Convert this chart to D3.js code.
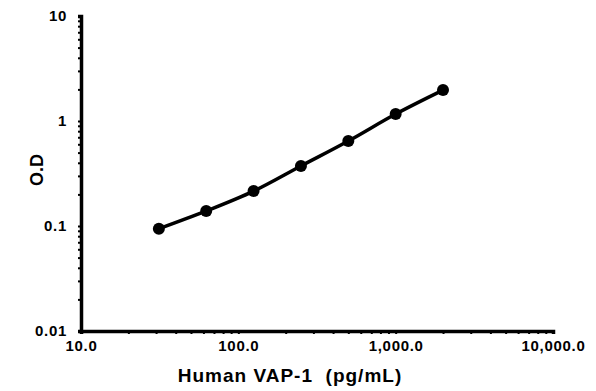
<!DOCTYPE html>
<html>
<head>
<meta charset="utf-8">
<script src="https://cdn.jsdelivr.net/npm/d3@7"></script>
<style>
body { margin: 0; background: #fff; }
text { font-family: "Liberation Sans", Arial, sans-serif; font-weight: bold; fill: #000; }
.axis path, .axis line { stroke: #000; }
</style>
</head>
<body>
<div id="chart"></div>
<script>
var WIDTH = 596;
var HEIGHT = 391;

// standard concentrations (pg/mL) and measured O.D
var conc = [31.25, 62.5, 125, 250, 500, 1000, 2000];
var od = [0.094, 0.139, 0.215, 0.373, 0.645, 1.166, 1.97];

var xTicks = [10, 100, 1000, 10000];
var xTickLabels = ['10.0', '100.0', '1,000.0', '10,000.0'];
var yTicks = [0.01, 0.1, 1, 10];
var yTickLabels = ['0.01', '0.1', '1', '10'];

var svg = d3.select('#chart').append('svg')
	.attr('width', WIDTH)
	.attr('height', HEIGHT);

var x = d3.scaleLog().domain([10, 10000]).range([81, 553]);
var y = d3.scaleLog().domain([0.01, 10]).range([331, 16]);

// all minor ticks per decade
function minorTicks(lo, hi) {
	var out = [];
	for (var d = lo; d < hi; d *= 10) {
		for (var k = 1; k < 10; k++) out.push(d * k);
	}
	out.push(hi);
	return out;
}

var xAxis = d3.axisBottom(x)
	.tickValues(minorTicks(10, 10000))
	.tickSize(3)
	.tickPadding(6)
	.tickFormat(function(d) {
		var i = xTicks.indexOf(d);
		return i >= 0 ? xTickLabels[i] : '';
	});

var yAxis = d3.axisLeft(y)
	.tickValues(minorTicks(0.01, 10))
	.tickSize(3)
	.tickPadding(11)
	.tickFormat(function(d) {
		for (var i = 0; i < yTicks.length; i++) {
			if (Math.abs(d - yTicks[i]) < 1e-9) return yTickLabels[i];
		}
		return '';
	});

var gx = svg.append('g')
	.attr('class', 'axis')
	.attr('transform', 'translate(0,331)')
	.call(xAxis);
gx.select('.domain').attr('stroke-width', 3.5);
gx.selectAll('line').attr('stroke-width', 2);
gx.selectAll('text').style('font-size', '15px').style('letter-spacing', '0.7px');

var gy = svg.append('g')
	.attr('class', 'axis')
	.attr('transform', 'translate(81,0)')
	.call(yAxis);
gy.select('.domain').attr('stroke-width', 3.5);
gy.selectAll('line').attr('stroke-width', 2);
gy.selectAll('text').style('font-size', '15px').style('letter-spacing', '0.7px');

var data = conc.map(function(c, i) { return [c, od[i]]; });

var line = d3.line()
	.x(function(d) { return x(d[0]); })
	.y(function(d) { return y(d[1]); })
	.curve(d3.curveCatmullRom);

svg.append('path')
	.datum(data)
	.attr('d', line)
	.attr('fill', 'none')
	.attr('stroke', '#000')
	.attr('stroke-width', 3.5);

svg.selectAll('circle')
	.data(data)
	.enter().append('circle')
	.attr('cx', function(d) { return x(d[0]); })
	.attr('cy', function(d) { return y(d[1]); })
	.attr('r', 6)
	.attr('fill', '#000');

svg.append('text')
	.attr('x', 290)
	.attr('y', 382)
	.attr('text-anchor', 'middle')
	.style('font-size', '19px')
	.style('letter-spacing', '1px')
	.style('white-space', 'pre')
	.text('Human VAP-1  (pg/mL)');

svg.append('text')
	.attr('transform', 'translate(43,170) rotate(-90)')
	.attr('text-anchor', 'middle')
	.style('font-size', '18px')
	.text('O.D');
</script>
</body>
</html>
